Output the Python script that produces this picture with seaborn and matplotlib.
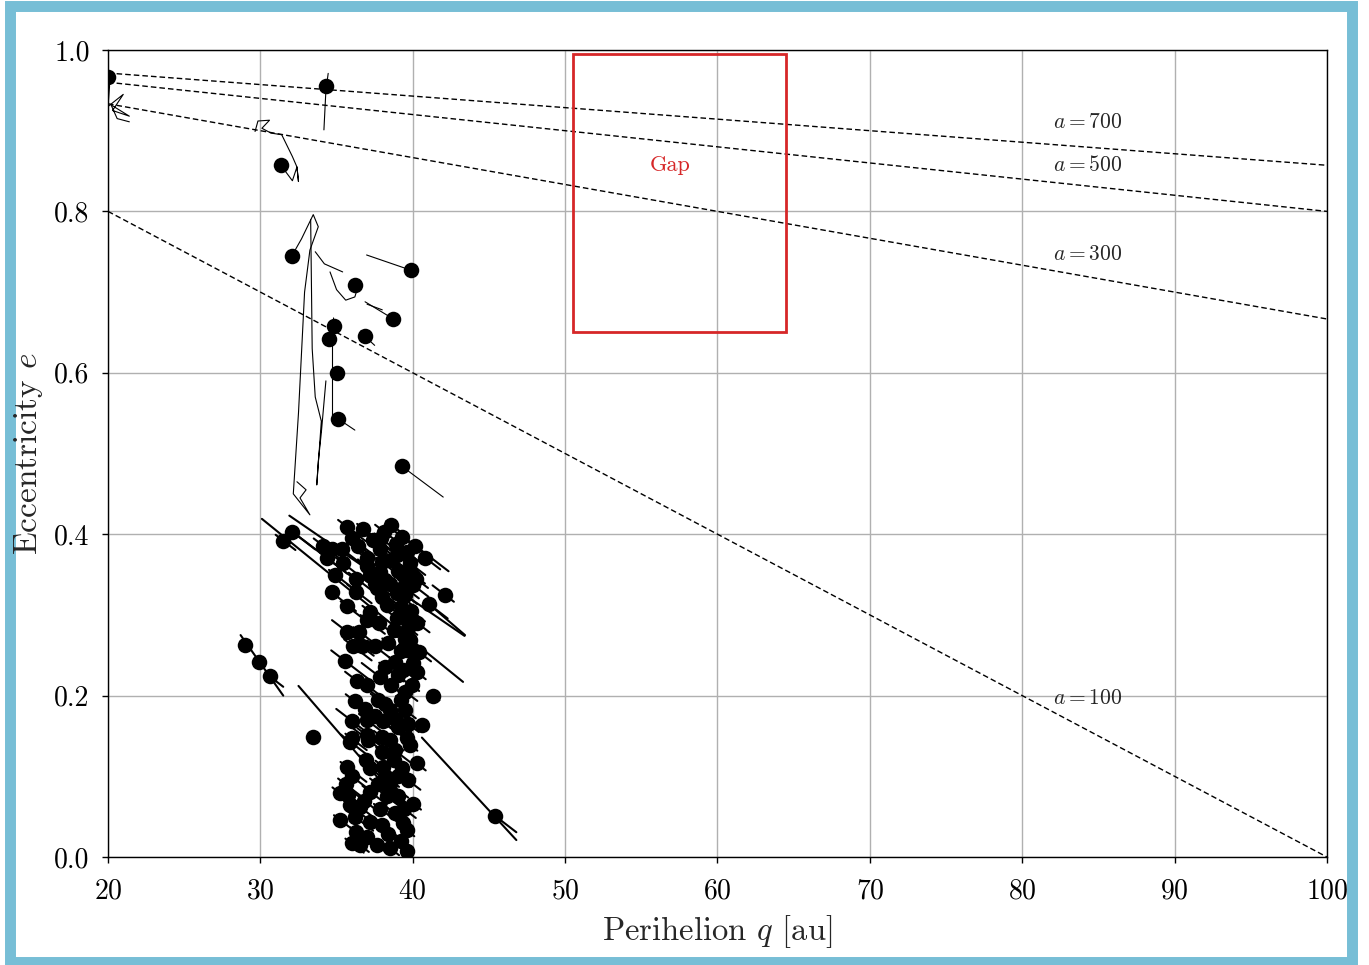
import numpy as np
import pandas as pd
import matplotlib
matplotlib.use("Agg")
import matplotlib.pyplot as plt
import seaborn as sns
from matplotlib.patches import Rectangle

# dashed reference curves e = 1 - q/a
a_values = [100, 300, 500, 700]
a_label_q = 82.0
a_label_e = [0.197, 0.747, 0.857, 0.910]

# the empty region
gap_q = (50.5, 64.5)
gap_e = (0.65, 0.995)
gap_text = (56.9, 0.857)

# high-eccentricity objects (final positions)
hi_q = [20.0, 34.3, 31.35, 32.07, 39.9, 36.2, 38.7, 34.83, 34.5, 36.87, 35.0, 35.1, 39.3]
hi_e = [0.967, 0.955, 0.857, 0.745, 0.727, 0.709, 0.667, 0.658, 0.642, 0.645, 0.60, 0.543, 0.484]

# their wandering tracks (q list, e list)
hi_tracks = [
    ([20.0, 20.1, 20.0, 21.0, 20.3, 21.4, 20.2, 20.6, 21.4],
     [0.975, 0.955, 0.93, 0.945, 0.925, 0.918, 0.932, 0.915, 0.911]),
    ([34.45, 34.3, 34.17], [0.971, 0.95, 0.901]),
    ([29.65, 29.84, 30.6, 30.1, 30.7, 31.4, 32.1, 32.4, 32.5, 32.4, 32.1, 31.35],
     [0.899, 0.912, 0.913, 0.903, 0.897, 0.895, 0.868, 0.855, 0.837, 0.855, 0.838, 0.857]),
    ([32.07, 32.7, 33.47, 33.8, 33.25, 32.9, 32.5, 32.16, 33.25, 32.6, 33.0, 32.4],
     [0.745, 0.766, 0.796, 0.781, 0.752, 0.70, 0.55, 0.45, 0.424, 0.445, 0.455, 0.465]),
    ([33.3, 33.4, 33.6, 34.0, 33.7, 33.8, 34.0, 34.3],
     [0.79, 0.63, 0.57, 0.54, 0.461, 0.49, 0.526, 0.59]),
    ([33.6, 34.2, 35.4], [0.75, 0.735, 0.725]),
    ([39.9, 36.97], [0.727, 0.746]),
    ([34.57, 35.0, 35.6, 36.2, 36.5, 36.2], [0.725, 0.703, 0.69, 0.694, 0.713, 0.709]),
    ([36.87, 38.7], [0.688, 0.667]),
    ([37.0, 38.0], [0.685, 0.678]),
    ([34.8, 34.83], [0.668, 0.658]),
    ([36.6, 36.87, 37.5], [0.652, 0.645, 0.634]),
    ([34.67, 34.67], [0.641, 0.546]),
    ([35.1, 36.2], [0.543, 0.529]),
    ([39.3, 42.0], [0.484, 0.446]),
]

# main cluster (final positions)
clu_q = [31.5, 32.1, 35.7, 36.75, 37.37, 38.13, 38.57, 39.27, 40.15, 40.8,
         34.1, 34.67, 35.33, 36.43, 37.85, 38.94, 39.82, 35.43, 36.97, 34.9,
         36.3, 37.85, 39.37, 40.03, 34.67, 36.3, 37.63, 38.94, 42.1, 35.67,
         37.2, 38.3, 39.6, 41.09, 36.97, 38.94, 38.6, 39.5, 39.7, 39.8,
         38.8, 38.2, 37.2,
         35.7, 36.5, 36.1, 36.64, 37.52, 35.55, 38.83, 39.6, 40.4, 39.37,
         40.25, 36.36, 36.97, 37.85, 38.6, 39.92, 41.35, 36.2, 37.74, 36.87,
         38.5, 39.5, 35.98, 36.97, 38.06, 39.04, 40.58, 33.47, 36.97, 35.98,
         37.95, 39.2, 39.8,
         35.88, 37.08, 38.5, 39.6, 38.83, 35.66, 37.2, 38.06, 39.27, 40.25,
         39.7, 38.5, 37.2, 35.23, 35.77, 39.04, 35.88, 36.54, 37.85, 40.04,
         38.83, 35.23, 37.2, 39.37, 45.4, 36.3, 38.4, 39.6, 35.98, 36.52,
         37.63, 38.5, 39.6, 38.8, 38.2,
         29.0, 29.9, 30.6,
         37.9, 38.9, 39.6, 37.0, 38.0, 39.0, 39.9, 37.5, 38.5, 39.4,
         40.2, 38.0, 39.2, 39.9, 37.8, 39.5, 39.2, 38.4, 40.0, 39.0,
         38.2, 39.5, 38.2, 38.9, 39.7, 37.5, 38.0, 39.0, 37.7, 38.3,
         39.4, 36.8, 38.0, 39.2, 37.0, 36.0, 35.6, 36.9, 36.2, 40.3,
         36.0, 34.4]
clu_e = [0.392, 0.403, 0.409, 0.407, 0.393, 0.403, 0.412, 0.397, 0.386, 0.371,
         0.386, 0.382, 0.382, 0.386, 0.382, 0.374, 0.364, 0.364, 0.37, 0.35,
         0.345, 0.353, 0.349, 0.337, 0.328, 0.329, 0.333, 0.327, 0.325, 0.311,
         0.304, 0.312, 0.298, 0.313, 0.294, 0.296, 0.368, 0.325, 0.284, 0.269,
         0.281, 0.343, 0.349,
         0.279, 0.279, 0.261, 0.261, 0.261, 0.243, 0.242, 0.256, 0.254, 0.232,
         0.229, 0.218, 0.213, 0.223, 0.213, 0.213, 0.2, 0.193, 0.195, 0.183,
         0.182, 0.182, 0.169, 0.17, 0.168, 0.161, 0.163, 0.149, 0.151, 0.147,
         0.149, 0.195, 0.139,
         0.143, 0.145, 0.145, 0.147, 0.132, 0.112, 0.11, 0.112, 0.11, 0.116,
         0.095, 0.091, 0.081, 0.079, 0.077, 0.075, 0.064, 0.062, 0.06, 0.066,
         0.054, 0.046, 0.044, 0.042, 0.051, 0.031, 0.029, 0.033, 0.017, 0.015,
         0.015, 0.011, 0.007, 0.12, 0.10,
         0.263, 0.242, 0.224,
         0.395, 0.388, 0.378, 0.36, 0.365, 0.355, 0.352, 0.34, 0.338, 0.335,
         0.345, 0.322, 0.31, 0.305, 0.29, 0.27, 0.255, 0.265, 0.24, 0.225,
         0.235, 0.205, 0.19, 0.17, 0.165, 0.175, 0.13, 0.10, 0.09, 0.075,
         0.06, 0.07, 0.04, 0.02, 0.025, 0.10, 0.09, 0.12, 0.05, 0.29,
         0.395, 0.37]

# visible trail extent behind / ahead of each cluster point [au], read along the track
clu_back = [0.5, 0.3, 0.6, 0.4, 0.5, 0.6, 0.3, 0.5, 0.4, 0.3,
            0.6, 0.4, 0.5, 0.7, 0.4, 0.5, 0.3, 0.5, 0.6, 0.4,
            0.5, 0.6, 0.4, 0.5, 0.3, 0.6, 0.4, 0.5, 0.8, 0.4,
            0.5, 0.3, 0.6, 0.2, 0.4, 0.5, 0.4, 0.3, 0.5, 0.4,
            0.3, 0.5, 0.6,
            1.0, 0.4, 0.6, 0.3, 0.5, 0.9, 0.4, 0.5, 0.3, 0.4,
            0.3, 0.8, 0.5, 1.2, 0.4, 0.3, 0.0, 0.6, 0.5, 0.4,
            0.6, 0.3, 1.0, 0.5, 0.4, 0.5, 0.3, 0.2, 0.6, 0.4,
            0.5, 0.3, 0.4,
            0.6, 1.0, 0.4, 0.5, 0.4, 0.4, 0.6, 0.5, 0.3, 0.2,
            0.4, 0.6, 0.5, 0.5, 0.3, 0.4, 0.6, 0.5, 0.4, 0.3,
            0.5, 0.4, 0.3, 0.5, 0.2, 0.4, 0.3, 0.5, 0.4, 0.3,
            0.4, 0.3, 0.2, 0.5, 0.4,
            0.3, 0.2, 0.2,
            0.4, 0.3, 0.5, 0.6, 0.4, 0.3, 0.5, 0.4, 0.6, 0.3,
            0.4, 0.5, 0.3, 0.4, 0.6, 0.3, 0.5, 0.4, 0.3, 0.5,
            0.4, 0.3, 0.6, 0.4, 0.3, 0.5, 0.4, 0.3, 0.5, 0.4,
            0.3, 0.6, 0.4, 0.3, 0.5, 0.6, 0.5, 0.4, 0.5, 0.3,
            0.6, 0.5]
clu_fwd = [0.8, 1.5, 1.2, 2.0, 1.4, 1.8, 1.0, 1.6, 2.2, 1.0,
           1.5, 1.0, 1.8, 1.2, 2.5, 1.5, 1.0, 1.6, 1.3, 1.1,
           1.5, 1.2, 0.8, 1.0, 1.6, 1.0, 1.4, 1.2, 0.6, 1.8,
           1.0, 1.4, 0.8, 1.2, 1.2, 0.9, 1.0, 0.8, 0.6, 0.8,
           0.7, 1.0, 1.1,
           1.3, 1.0, 1.2, 0.8, 1.0, 1.5, 0.9, 0.6, 0.8, 0.7,
           0.6, 1.2, 0.9, 1.3, 1.0, 0.5, 0.4, 1.2, 1.0, 1.1,
           0.9, 0.7, 1.1, 1.0, 1.2, 0.9, 0.3, 0.3, 1.3, 1.0,
           1.1, 0.6, 0.5,
           1.2, 1.0, 0.9, 0.6, 1.0, 1.3, 1.4, 1.0, 0.9, 0.6,
           0.8, 1.2, 1.1, 1.0, 1.2, 0.7, 1.0, 1.2, 1.1, 0.5,
           1.0, 1.0, 0.9, 0.6, 1.4, 0.9, 0.8, 0.5, 0.8, 0.6,
           0.7, 0.6, 0.3, 0.8, 0.9,
           0.3, 0.3, 0.9,
           1.4, 1.2, 1.0, 1.3, 1.5, 1.1, 0.9, 1.4, 1.2, 1.0,
           0.8, 1.3, 1.0, 0.9, 1.2, 0.8, 1.0, 1.1, 0.7, 1.0,
           1.2, 0.8, 1.1, 1.0, 0.7, 1.2, 1.1, 0.9, 1.2, 1.0,
           0.8, 1.1, 1.0, 0.7, 1.0, 1.2, 1.1, 1.0, 1.2, 0.8,
           1.5, 1.3]
trail_slope = -0.0145   # de/dq of the cluster tracks

# long straight tracks through the cluster (q0, e0) -> (q1, e1)
long_q0 = [30.1, 31.9, 32.1, 28.7, 32.5, 40.6, 41.09]
long_e0 = [0.419, 0.423, 0.403, 0.275, 0.212, 0.148, 0.313]
long_q1 = [43.3, 43.4, 36.5, 31.5, 39.0, 46.8, 43.43]
long_e1 = [0.217, 0.274, 0.340, 0.200, 0.070, 0.021, 0.275]

# ---------------------------------------------------------------
rows = []
oid = 0
for tq, te in hi_tracks:
    for q, e in zip(tq, te):
        rows.append((oid, q, e, "thin"))
    oid += 1
for q, e, b, f in zip(clu_q, clu_e, clu_back, clu_fwd):
    rows.append((oid, q - b, e - trail_slope * b, "thick"))
    rows.append((oid, q + f, e + trail_slope * f, "thick"))
    oid += 1
for q0, e0, q1, e1 in zip(long_q0, long_e0, long_q1, long_e1):
    rows.append((oid, q0, e0, "thick"))
    rows.append((oid, q1, e1, "thick"))
    oid += 1
tracks = pd.DataFrame(rows, columns=["obj", "q", "e", "kind"])

points = pd.DataFrame({"q": hi_q + clu_q, "e": hi_e + clu_e})

sns.set_theme(style="ticks")
plt.rcParams["font.family"] = "serif"
plt.rcParams["font.serif"] = ["cmr10", "DejaVu Serif"]
plt.rcParams["mathtext.fontset"] = "cm"
plt.rcParams["axes.formatter.use_mathtext"] = True

fig = plt.figure(figsize=(13.69, 9.65), dpi=100)
fig.patch.set_facecolor("white")
ax = fig.add_axes([0.0789, 0.1119, 0.8904, 0.8363])

ax.grid(True, color="#b0b0b0", lw=1.0, zorder=0)
ax.set_axisbelow(True)

qq = np.linspace(20, 100, 200)
for a in a_values:
    ax.plot(qq, 1 - qq / a, ls=(0, (4, 2.2)), color="black", lw=1.0, zorder=2)
for a, ye in zip(a_values, a_label_e):
    ax.text(a_label_q, ye, r"$a = %d$" % a, fontsize=15.5, va="center", ha="left")

sns.lineplot(data=tracks[tracks.kind == "thin"], x="q", y="e", units="obj",
             estimator=None, sort=False, color="black", lw=0.8, ax=ax, zorder=2)
sns.lineplot(data=tracks[tracks.kind == "thick"], x="q", y="e", units="obj",
             estimator=None, sort=False, color="black", lw=1.5, ax=ax, zorder=2)
sns.scatterplot(data=points, x="q", y="e", color="black", s=125, linewidth=0,
                ax=ax, zorder=3)

ax.add_patch(Rectangle((gap_q[0], gap_e[0]), gap_q[1] - gap_q[0], gap_e[1] - gap_e[0],
                       fill=False, edgecolor="#d62728", lw=2.0, zorder=4))
ax.text(gap_text[0], gap_text[1], "Gap", color="#d62728", fontsize=16,
        ha="center", va="center")

ax.set_xlim(20, 100)
ax.set_ylim(0, 1)
ax.set_xticks(np.arange(20, 101, 10))
ax.set_yticks(np.arange(0, 1.01, 0.2))
ax.set_yticklabels(["%.1f" % v for v in np.arange(0, 1.01, 0.2)])
ax.tick_params(direction="out", length=4.3, width=1, labelsize=20, colors="black")
ax.tick_params(axis="x", pad=11)
ax.tick_params(axis="y", pad=9)
for s in ax.spines.values():
    s.set_color("black")
    s.set_linewidth(1.0)

ax.set_xlabel(r"Perihelion $q$ [au]", fontsize=23.5)
ax.set_ylabel(r"Eccentricity $e$", fontsize=24)
ax.xaxis.set_label_coords(0.5, -0.07)
ax.yaxis.set_label_coords(-0.052, 0.5)

fig.patches.append(Rectangle((9.5 / 1369, 3 / 965), 1342 / 1369, 956.5 / 965,
                             transform=fig.transFigure, fill=False,
                             edgecolor="#77bed6", lw=7.9, zorder=-1))

fig.savefig("out.png", dpi=100)
